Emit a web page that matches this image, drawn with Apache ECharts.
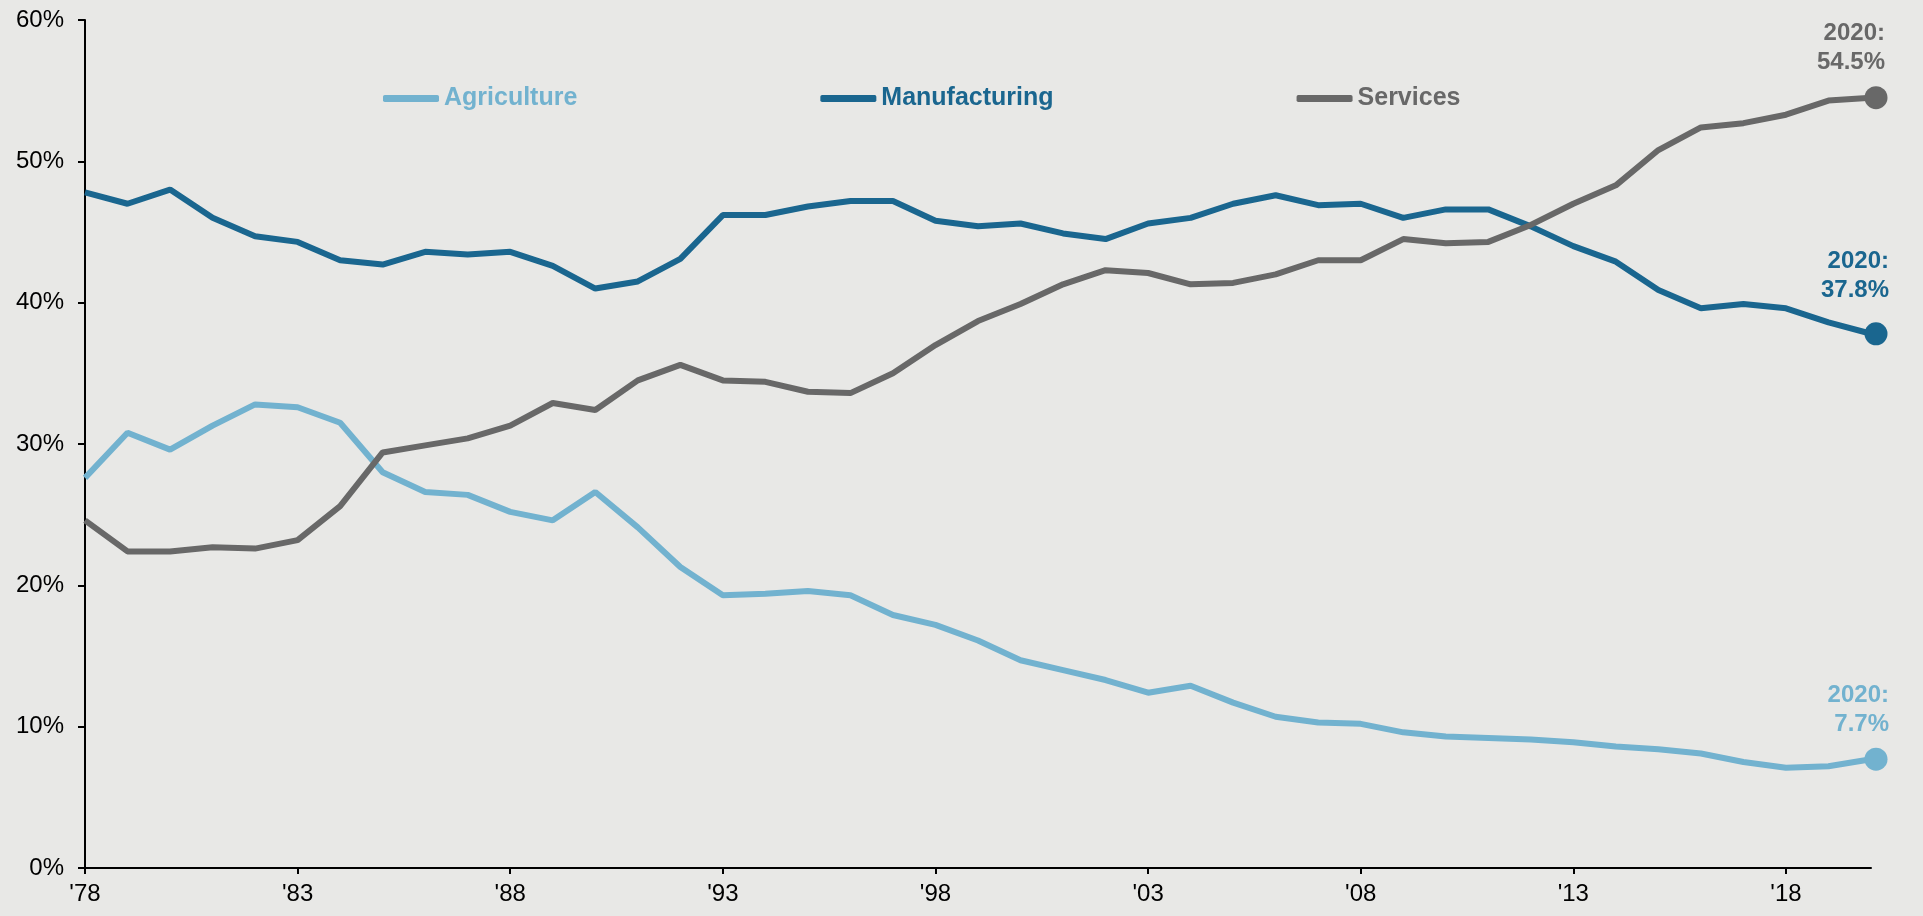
<!DOCTYPE html>
<html>
<head>
<meta charset="utf-8">
<script src="https://cdn.jsdelivr.net/npm/echarts@6/dist/echarts.min.js"></script>
<style>
html,body{margin:0;padding:0;background:#e8e8e6;}
#chart{width:1923px;height:916px;}
</style>
</head>
<body>
<div id="chart"></div>
<script>
const years = ['1978','1979','1980','1981','1982','1983','1984','1985','1986','1987','1988','1989','1990','1991','1992','1993','1994','1995','1996','1997','1998','1999','2000','2001','2002','2003','2004','2005','2006','2007','2008','2009','2010','2011','2012','2013','2014','2015','2016','2017','2018','2019','2020'];
const agriculture = [27.6,30.8,29.6,31.3,32.8,32.6,31.5,28.0,26.6,26.4,25.2,24.6,26.6,24.1,21.3,19.3,19.4,19.6,19.3,17.9,17.2,16.1,14.7,14.0,13.3,12.4,12.9,11.7,10.7,10.3,10.2,9.6,9.3,9.2,9.1,8.9,8.6,8.4,8.1,7.5,7.1,7.2,7.7];
const manufacturing = [47.8,47.0,48.0,46.0,44.7,44.3,43.0,42.7,43.6,43.4,43.6,42.6,41.0,41.5,43.1,46.2,46.2,46.8,47.2,47.2,45.8,45.4,45.6,44.9,44.5,45.6,46.0,47.0,47.6,46.9,47.0,46.0,46.6,46.6,45.4,44.0,42.9,40.9,39.6,39.9,39.6,38.6,37.8];
const services = [24.6,22.4,22.4,22.7,22.6,23.2,25.6,29.4,29.9,30.4,31.3,32.9,32.4,34.5,35.6,34.5,34.4,33.7,33.6,35.0,37.0,38.7,39.9,41.3,42.3,42.1,41.3,41.4,42.0,43.0,43.0,44.5,44.2,44.3,45.5,47.0,48.3,50.8,52.4,52.7,53.3,54.3,54.5];
const seriesNames = ['Agriculture','Manufacturing','Services'];
const seriesColors = ['#72b2cf','#1a668f','#686868'];
const yTicks = [0,10,20,30,40,50,60];

const FONT = "Arial, 'Liberation Sans', sans-serif";
const labelOffsets = [[13,-4],[13,-12],[9,-4]];

function buildSeries(name, values, color, off) {
  const last = values.length - 1;
  return {
    name: name,
    type: 'line',
    showSymbol: true,
    symbol: 'none',
    lineStyle: {width: 6, color: color},
    itemStyle: {color: color},
    emphasis: {disabled: true},
    z: 3,
    data: values.map((v, i) => i === last ? {
      value: v,
      symbol: 'circle',
      symbolSize: 23,
      symbolOffset: [5, 0],
      label: {
        show: true,
        position: 'top',
        align: 'right',
        offset: off,
        formatter: years[last] + ':\n' + v.toFixed(1) + '%',
        color: color,
        fontFamily: FONT,
        fontWeight: 'bold',
        fontSize: 24,
        lineHeight: 29
      }
    } : v)
  };
}

const chart = echarts.init(document.getElementById('chart'));
chart.setOption({
  backgroundColor: '#e8e8e6',
  animation: false,
  grid: {left: 85, right: 52, top: 20, bottom: 48, containLabel: false},
  legend: {
    left: 378,
    top: 81,
    padding: 5,
    itemGap: 243,
    itemWidth: 56,
    itemHeight: 7,
    icon: 'roundRect',
    selectedMode: false,
    textStyle: {fontFamily: FONT, fontWeight: 'bold', fontSize: 25},
    data: seriesNames.map((n, i) => ({name: n, textStyle: {color: seriesColors[i]}, itemStyle: {color: seriesColors[i]}}))
  },
  xAxis: {
    type: 'category',
    data: years,
    boundaryGap: false,
    axisLine: {lineStyle: {color: '#000', width: 2}},
    axisTick: {show: true, interval: 4, length: 6, lineStyle: {color: '#000', width: 2}},
    axisLabel: {
      interval: 4,
      margin: 14,
      color: '#000',
      fontFamily: FONT,
      fontSize: 24,
      formatter: v => "'" + v.slice(2)
    },
    splitLine: {show: false}
  },
  yAxis: {
    type: 'value',
    min: yTicks[0],
    max: yTicks[yTicks.length - 1],
    interval: 10,
    axisLine: {show: true, lineStyle: {color: '#000', width: 2}},
    axisTick: {show: true, length: 7, lineStyle: {color: '#000', width: 2}},
    axisLabel: {
      margin: 21,
      color: '#000',
      fontFamily: FONT,
      fontSize: 24,
      formatter: '{value}%'
    },
    splitLine: {show: false}
  },
  series: [
    buildSeries(seriesNames[0], agriculture, seriesColors[0], labelOffsets[0]),
    buildSeries(seriesNames[1], manufacturing, seriesColors[1], labelOffsets[1]),
    buildSeries(seriesNames[2], services, seriesColors[2], labelOffsets[2])
  ]
});
</script>
</body>
</html>
